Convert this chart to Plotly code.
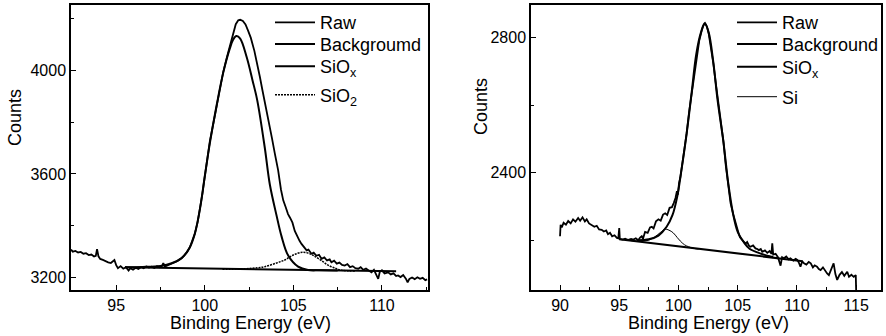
import plotly.graph_objects as go

# ---------------- Left panel data (SiOx / SiO2) ----------------
left_raw_x = [92.45, 92.55, 92.7, 92.85, 93.0, 93.15, 93.3, 93.45, 93.6, 93.75, 93.85, 93.92, 94.0, 94.1,
              94.25, 94.4, 94.55, 94.7, 94.8, 94.9, 95.0, 95.1, 95.25, 95.4, 95.55, 95.7, 95.8, 95.95,
              96.1, 96.25, 96.4, 96.55, 96.7, 96.85, 97.0, 97.15, 97.3, 97.45, 97.6, 97.66, 97.75, 97.9,
              98.05, 98.2, 98.4, 98.55, 98.7, 98.85, 99.0, 99.16, 99.3, 99.44, 99.6, 99.73, 99.87, 100.0,
              100.15, 100.29, 100.5, 100.67, 100.85, 101.04, 101.25, 101.42, 101.6, 101.75, 101.89, 102.0,
              102.15, 102.3, 102.45, 102.6, 102.8, 102.95, 103.11, 103.25, 103.39, 103.53, 103.67, 103.8,
              103.95, 104.14, 104.3, 104.43, 104.55, 104.7, 104.82, 104.95, 105.08, 105.2, 105.35, 105.46,
              105.6, 105.75, 105.85, 106.02, 106.15, 106.3, 106.45, 106.59, 106.75, 106.9, 107.05, 107.15,
              107.3, 107.45, 107.6, 107.75, 107.9, 108.05, 108.2, 108.35, 108.5, 108.66, 108.8, 108.95,
              109.1, 109.25, 109.41, 109.55, 109.7, 109.79, 109.88, 110.0, 110.15, 110.35, 110.5, 110.65,
              110.8, 110.91, 111.05, 111.2, 111.35, 111.45, 111.55, 111.7, 111.85, 112.0, 112.15, 112.3,
              112.45, 112.55]
left_raw_y = [3308, 3300, 3303, 3297, 3299, 3292, 3294, 3287, 3289, 3281, 3284, 3310, 3282, 3272,
              3268, 3262, 3259, 3256, 3262, 3268, 3248, 3236, 3244, 3234, 3240, 3227, 3236, 3230,
              3238, 3233, 3240, 3236, 3243, 3239, 3242, 3237, 3244, 3240, 3246, 3256, 3242, 3246,
              3250, 3255, 3262, 3268, 3275, 3286, 3298, 3317, 3340, 3370, 3415, 3465, 3525, 3590,
              3660, 3727, 3800, 3865, 3930, 3993, 4050, 4095, 4145, 4178, 4193, 4195,
              4190, 4177, 4152, 4125, 4075, 4030, 3975, 3925, 3880, 3830, 3781, 3735,
              3680, 3615, 3540, 3498, 3475, 3445, 3430, 3412, 3380, 3360, 3342, 3330,
              3318, 3305, 3308, 3292, 3296, 3284, 3288, 3272, 3278, 3266, 3270, 3259,
              3265, 3254, 3258, 3249, 3246, 3252, 3240, 3244, 3236, 3234, 3240, 3230,
              3235, 3226, 3220, 3230, 3210, 3195, 3222, 3228, 3216, 3220, 3212, 3216,
              3206, 3208, 3202, 3210, 3196, 3182, 3195, 3200, 3194, 3201, 3195, 3199,
              3190, 3193]

left_bg_x = [95.5, 110.8]
left_bg_y = [3240, 3224]

left_siox_x = [95.5, 96.5, 97.5, 98.13, 98.69, 99.16, 99.44, 99.73, 100.0, 100.29, 100.67, 101.04,
               101.42, 101.6, 101.79, 102.0, 102.36, 102.7, 102.96, 103.39, 103.67, 104.05, 104.33,
               104.71, 105.27, 105.83, 106.5, 107.5]
left_siox_y = [3240, 3241, 3245, 3255, 3275, 3317, 3369, 3465, 3590, 3720, 3865, 3990,
               4085, 4118, 4132, 4122, 4052, 3960, 3885, 3700, 3560, 3440, 3360,
               3285, 3242, 3229, 3228, 3227]

left_sio2_x = [101.0, 102.26, 103.0, 103.39, 104.0, 104.52, 105.0, 105.55, 106.0, 106.21, 106.6,
               106.96, 107.4, 107.72, 108.5]
left_sio2_y = [3232, 3234, 3238, 3242, 3255, 3268, 3287, 3298, 3290, 3282, 3265,
               3248, 3235, 3228, 3225]

# ---------------- Right panel data (SiOx / Si) ----------------
right_raw_x = [90.0, 90.05, 90.15, 90.3, 90.5, 90.69, 90.9, 91.1, 91.3, 91.53, 91.7, 91.9, 92.1, 92.25,
               92.45, 92.67, 92.9, 93.1, 93.3, 93.52, 93.7, 93.9, 94.05, 94.22, 94.4, 94.6, 94.8, 94.92,
               95.0, 95.05, 95.3, 95.5, 95.77, 96.0, 96.2, 96.4, 96.6, 96.76, 96.9, 97.0, 97.18, 97.4,
               97.6, 97.75, 97.9, 98.1, 98.31, 98.5, 98.7, 98.88, 99.05, 99.25, 99.45, 99.6, 99.75,
               99.87, 99.95, 100.05, 100.15, 100.3, 100.5, 100.69, 100.9, 101.14, 101.35, 101.53, 101.75,
               101.96, 102.1, 102.24, 102.4, 102.55, 102.75, 102.95, 103.15, 103.37, 103.6, 103.8, 104.0,
               104.22, 104.4, 104.64, 104.8, 104.95, 105.1, 105.21, 105.38, 105.5, 105.66, 105.8, 105.95,
               106.08, 106.3, 106.5, 106.62, 106.79, 106.95, 107.07, 107.3, 107.5, 107.7, 107.85, 107.92,
               108.0, 108.2, 108.4, 108.62, 108.75, 108.9, 109.1, 109.3, 109.45, 109.7, 109.9, 110.03,
               110.15, 110.3, 110.45, 110.6, 110.8, 111.0, 111.17, 111.35, 111.5, 111.7, 111.85, 112.0,
               112.2, 112.4, 112.55, 112.7, 112.9, 113.1, 113.25, 113.4, 113.6, 113.8, 114.0, 114.25,
               114.4, 114.6, 114.8, 114.97, 115.0]
right_raw_y = [2212, 2246, 2238, 2252, 2246, 2257, 2250, 2262, 2255, 2266, 2258, 2268, 2256, 2262,
               2250, 2246, 2240, 2243, 2232, 2231, 2226, 2229, 2218, 2222, 2212, 2215, 2207, 2206,
               2236, 2204, 2202, 2205, 2201, 2204, 2202, 2206, 2200, 2208, 2212, 2204, 2225, 2222,
               2238, 2240, 2235, 2256, 2262, 2258, 2276, 2280, 2275, 2296, 2298, 2310, 2325,
               2345, 2335, 2370, 2385, 2420, 2465, 2517, 2580, 2640, 2700, 2750, 2790,
               2820, 2835, 2842, 2832, 2812, 2770, 2722, 2665, 2610, 2550, 2492, 2420,
               2355, 2310, 2275, 2255, 2232, 2218, 2208, 2201, 2198, 2190, 2195, 2184,
               2181, 2185, 2176, 2175, 2171, 2174, 2166, 2170, 2163, 2168, 2160, 2191,
               2158, 2160, 2150, 2125, 2150, 2147, 2152, 2144, 2147, 2140, 2145, 2142,
               2135, 2122, 2138, 2132, 2128, 2136, 2132, 2120, 2126, 2122, 2115, 2112,
               2120, 2108, 2102, 2097, 2112, 2132, 2100, 2083, 2098, 2106, 2095, 2107,
               2092, 2098, 2092, 2097, 2053]

right_bg_x = [95.0, 110.5]
right_bg_y = [2203, 2138]

right_siox_x = [96.5, 97.5, 98.31, 99.0, 99.5, 99.9, 100.26, 100.69, 101.14, 101.5, 101.9, 102.22,
                102.55, 102.95, 103.3, 103.8, 104.2, 104.6, 105.0, 105.5, 106.0, 107.0, 108.0]
right_siox_y = [2200, 2203, 2214, 2240, 2275, 2330, 2410, 2515, 2645, 2750, 2815, 2842,
                2815, 2725, 2615, 2490, 2370, 2280, 2225, 2195, 2175, 2160, 2150]

right_si_x = [96.0, 96.8, 97.46, 98.0, 98.5, 98.85, 99.2, 99.56, 99.9, 100.15, 100.5, 100.85, 101.3, 101.7]
right_si_y = [2199, 2198, 2200, 2210, 2224, 2233, 2230, 2222, 2208, 2198, 2187, 2181, 2176, 2174]

left_names = ["Raw", "Backgroumd", "SiO<sub>x</sub>", "SiO<sub>2</sub>"]
right_names = ["Raw", "Background", "SiO<sub>x</sub>", "Si"]

FONT = "Arial, Liberation Sans, sans-serif"
W, H = 886, 336


def px2x(px):
    return px / W


def px2y(py):
    return 1 - py / H


fig = go.Figure()


def add(x, y, name, xa, ya, legend, width=2.0, dash="solid", shape="linear"):
    fig.add_trace(go.Scatter(x=x, y=y, mode="lines", name=name, xaxis=xa, yaxis=ya,
                             legend=legend,
                             line=dict(color="black", width=width, dash=dash, shape=shape)))


# one single-entry legend per trace, so each row can be placed like the reference
add(left_bg_x, left_bg_y, left_names[1], "x", "y", "legend2")
add(left_siox_x, left_siox_y, left_names[2], "x", "y", "legend3", shape="spline")
add(left_sio2_x, left_sio2_y, left_names[3], "x", "y", "legend4", width=1.5, dash="2px,1px", shape="spline")
add(left_raw_x, left_raw_y, left_names[0], "x", "y", "legend", width=1.8)

add(right_bg_x, right_bg_y, right_names[1], "x2", "y2", "legend6")
add(right_siox_x, right_siox_y, right_names[2], "x2", "y2", "legend7", shape="spline")
add(right_si_x, right_si_y, right_names[3], "x2", "y2", "legend8", width=1.0, shape="spline")
add(right_raw_x, right_raw_y, right_names[0], "x2", "y2", "legend5", width=1.8)

ax_common = dict(showline=True, linecolor="black", linewidth=1.5, mirror=True,
                 ticks="inside", ticklen=5, tickwidth=1.2, tickcolor="black",
                 showgrid=False, zeroline=False,
                 tickfont=dict(family=FONT, size=16, color="black"))

layout = dict(
    width=W, height=H, margin=dict(l=0, r=0, t=0, b=0),
    paper_bgcolor="white", plot_bgcolor="white",
    font=dict(family=FONT, color="black"),
    showlegend=True,
    xaxis=dict(domain=[px2x(71), px2x(428)], range=[92.45, 112.6], dtick=5, tick0=0,
               minor=dict(dtick=2.5, ticks="inside", ticklen=3, tickcolor="black"), anchor="y", **ax_common),
    yaxis=dict(domain=[px2y(290), px2y(5)], range=[3152, 4252], dtick=400, tick0=0,
               minor=dict(dtick=200, ticks="inside", ticklen=3, tickcolor="black"), anchor="x", **ax_common),
    xaxis2=dict(domain=[px2x(531), px2x(881)], range=[87.55, 117.1], dtick=5, tick0=0,
                minor=dict(dtick=2.5, ticks="inside", ticklen=3, tickcolor="black"), anchor="y2", **ax_common),
    yaxis2=dict(domain=[px2y(290), px2y(5)], range=[2053, 2896], dtick=400, tick0=0,
                minor=dict(dtick=200, ticks="inside", ticklen=3, tickcolor="black"), anchor="x2", **ax_common),
)

# legend row positions (pixels): left panel then right panel
leg_rows = {"legend": (270, 22.7), "legend2": (270, 44.3), "legend3": (270, 66.5), "legend4": (270, 95.0),
            "legend5": (732, 22.7), "legend6": (732, 44.3), "legend7": (732, 67.0), "legend8": (732, 97.0)}
for key, (lx, ly) in leg_rows.items():
    layout[key] = dict(x=px2x(lx), y=px2y(ly), xanchor="left", yanchor="middle",
                       bgcolor="rgba(0,0,0,0)", borderwidth=0,
                       font=dict(family=FONT, size=18, color="black"), itemwidth=40)

fig.update_layout(**layout)

annos = [
    dict(text="Counts", x=px2x(15), y=px2y(118), textangle=-90),
    dict(text="Counts", x=px2x(481), y=px2y(107), textangle=-90),
    dict(text="Binding Energy (eV)", x=px2x(250), y=px2y(322.5), textangle=0),
    dict(text="Binding Energy (eV)", x=px2x(708), y=px2y(322.5), textangle=0),
]
for a in annos:
    fig.add_annotation(xref="paper", yref="paper", xanchor="center", yanchor="middle",
                       showarrow=False, font=dict(family=FONT, size=18, color="black"), **a)

fig.write_html("out.html")
